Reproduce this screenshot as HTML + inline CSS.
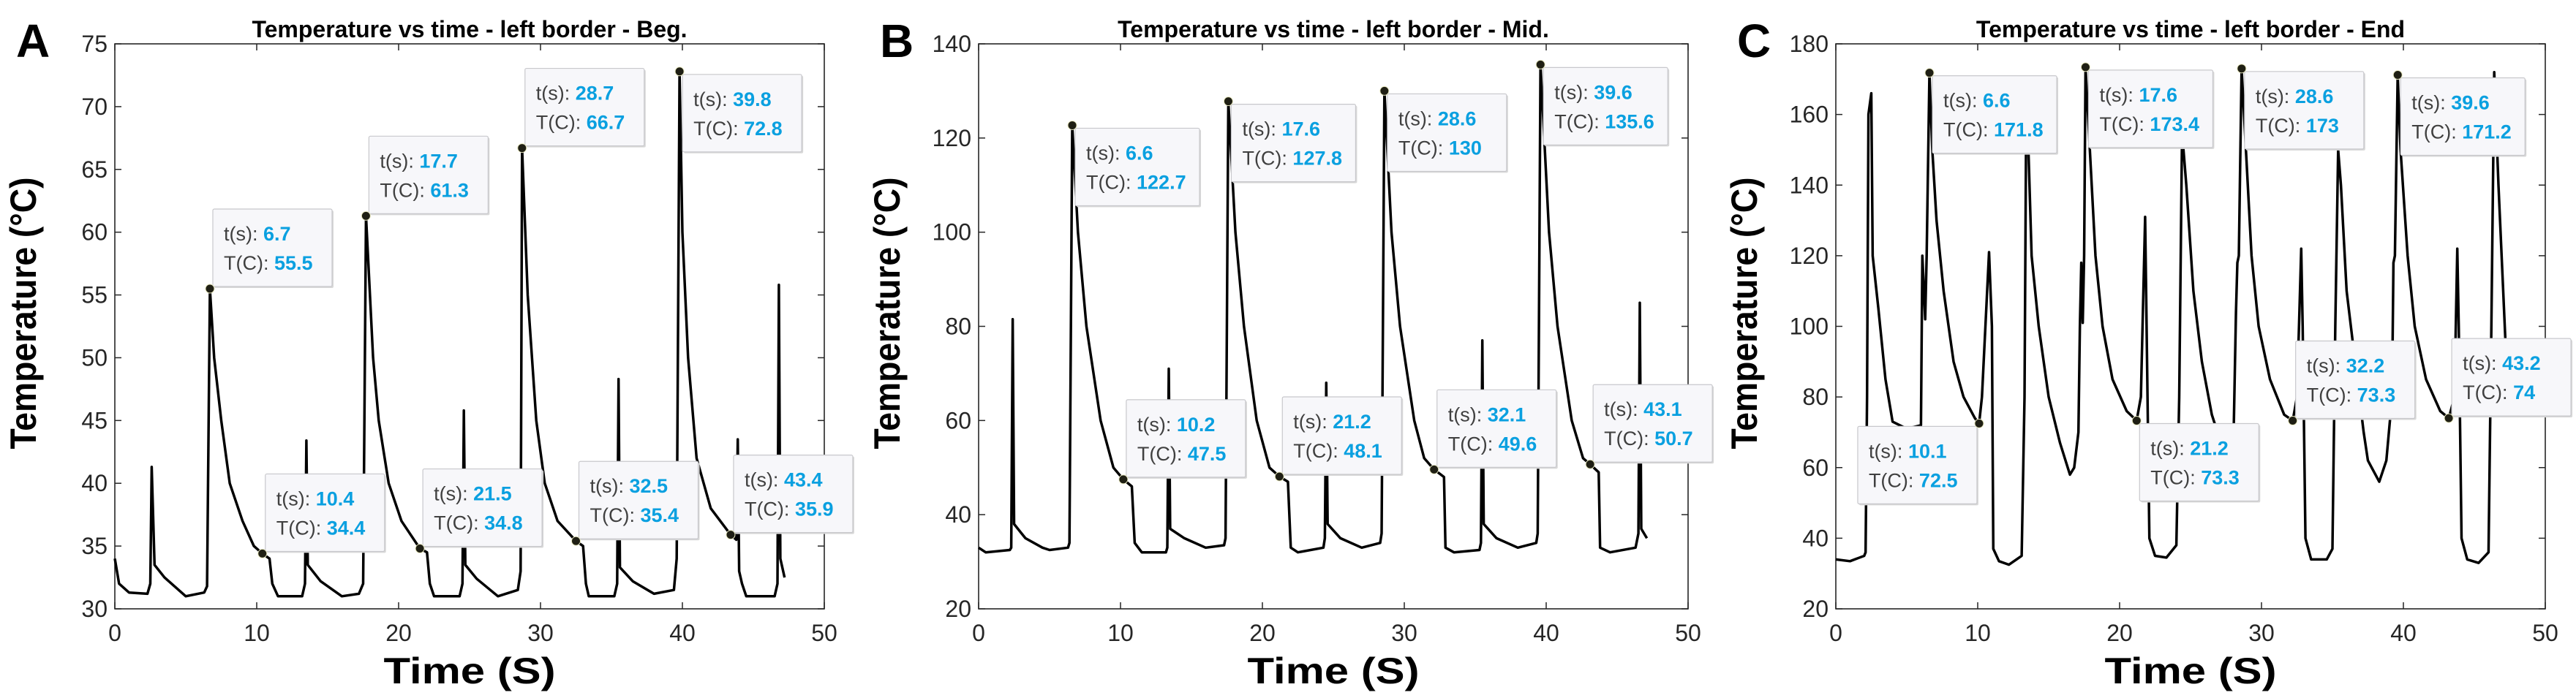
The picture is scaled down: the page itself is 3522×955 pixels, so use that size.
<!DOCTYPE html>
<html><head><meta charset="utf-8"><style>
html,body{margin:0;padding:0;background:#fff;}
svg{display:block;font-family:"Liberation Sans",Arial,sans-serif;}
</style></head><body>
<svg id="fig" width="3522" height="955" viewBox="0 0 3522 955" xmlns="http://www.w3.org/2000/svg"></svg>
<script>
// ---------- Panel A data ----------
const aTime=[0,0.3,1,2.3,2.5,2.6,2.8,3.5,5,6.3,6.5,6.7,7.0,7.5,8.1,9,9.8,10.4,10.9,11.1,11.5,13.2,13.4,13.5,13.6,14.5,16,17.2,17.5,17.7,18.2,18.6,19.3,20.2,21.5,22.0,22.2,22.5,24.3,24.5,24.6,24.7,25.5,27,28.4,28.6,28.7,29.1,29.7,30.3,31.2,32.5,33.0,33.2,33.4,35.2,35.4,35.5,35.6,36.5,38,39.4,39.6,39.8,40.0,40.4,41,42,43.4,43.8,43.9,44.0,44.2,44.5,46.5,46.7,46.8,46.9,47.2];
const aTemp=[34,32,31.3,31.2,32,41.3,33.5,32.5,31,31.3,31.8,55.5,50,45,40,37,35,34.4,34,32,31,31,32,43.4,33.5,32.2,31,31.2,32,61.3,50,45,40,37,34.8,34.5,32,31,31,32,45.8,33.5,32.4,31,31.5,33,66.7,55,45,40,37,35.4,35,32,31,31,32,48.3,33.3,32.2,31.2,31.5,34,72.8,60,50,42,38,35.9,35.5,43.5,33,32,31,31,32,55.8,34,32.5];
const aTipT=[6.7,10.4,17.7,21.5,28.7,32.5,39.8,43.4];
const aTipV=[55.5,34.4,61.3,34.8,66.7,35.4,72.8,35.9];
const aTipPos=["bl","bl","bl","bl","bl","bl","tl","bl"];
const aYTicks=[30,35,40,45,50,55,60,65,70,75];
// ---------- Panel B data ----------
const bTime=[0,0.5,2.2,2.3,2.4,2.5,3.3,4.5,5,6.3,6.4,6.6,7,7.6,8.6,9.5,10.2,10.8,11.0,11.5,13.2,13.3,13.4,13.5,14.5,16,17.3,17.4,17.6,18.1,18.7,19.6,20.5,21.2,21.8,22.0,22.5,24.3,24.4,24.5,24.6,25.5,27,28.3,28.4,28.6,29.1,29.7,30.7,31.4,32.1,32.8,32.9,33.5,35.3,35.4,35.5,35.6,36.5,38,39.3,39.4,39.6,40.2,40.8,41.8,42.6,43.1,43.7,43.8,44.5,46.3,46.5,46.6,46.7,47.1];
const bTemp=[33,32,32.5,33,81.5,38,35,33,32.5,33,34,122.7,100,80,60,50,47.5,46,34,32,32,33,71,37,35,33,33.5,35,127.8,100,80,60,50,48.1,47,33,32,33,35,68,38,35,33,34,36,130,100,80,60,52,49.6,48,33,32,32.5,34,77,38,35,33,34,36,135.6,100,80,60,52,50.7,49,33,32,33,36,85,37,35];
const bTipT=[6.6,10.2,17.6,21.2,28.6,32.1,39.6,43.1];
const bTipV=[122.7,47.5,127.8,48.1,130,49.6,135.6,50.7];
const bTipPos=["tl","bl","tl","bl","tl","bl","tl","bl"];
const bYTicks=[20,40,60,80,100,120,140];
// ---------- Panel C data ----------
const cTime=[0,1,2,2.1,2.2,2.3,2.5,2.6,3,3.5,4,5,6.0,6.1,6.3,6.4,6.6,6.8,7.1,7.6,8.3,9,9.8,10.1,10.3,10.8,11.0,11.1,11.5,12.2,13.1,13.3,13.4,13.5,13.8,14.3,15,15.8,16.5,16.8,17.1,17.2,17.3,17.4,17.5,17.6,17.9,18.3,18.8,19.5,20.5,21.2,21.5,21.8,21.9,22.1,22.5,23.3,24.0,24.2,24.4,24.7,25.2,25.8,26.5,27.3,28.0,28.2,28.3,28.4,28.6,28.9,29.3,29.8,30.6,31.6,32.2,32.5,32.8,32.9,33.1,33.5,34.6,35,35.2,35.4,35.6,36,36.6,37.2,37.5,38.3,38.8,39.2,39.3,39.4,39.6,39.8,40.3,40.8,41.6,42.6,43.2,43.6,43.8,43.9,44.1,44.5,45.3,46.0,46.2,46.4,46.7,47.2];
const cTemp=[34,33.5,35,36,80,160,166,120,105,85,73,71,72,120,102,120,171.8,150,130,110,90,80,74,72.5,80,121,100,37,33.5,32.5,35,80,150,160,120,100,80,67,58,60,70,100,118,101,120,173.4,150,120,100,85,76,73.3,80,131,100,40,35,34.5,38,80,155,140,110,90,75,65,62,104,118,120,173,150,120,100,85,75,73.3,80,122,100,40,34,34,37,100,150,140,110,90,70,62,56,62,80,118,120,171.2,150,120,100,85,76,74,80,122,100,40,34,33,36,100,172,140,95];
const cTipT=[6.6,10.1,17.6,21.2,28.6,32.2,39.6,43.2];
const cTipV=[171.8,72.5,173.4,73.3,173,73.3,171.2,74];
const cTipPos=["tl","tr","tl","tl","tl","bl","tl","bl"];
const cYTicks=[20,40,60,80,100,120,140,160,180];
const xTicks=[0,10,20,30,40,50];

const NS="http://www.w3.org/2000/svg";
const svg=document.getElementById('fig');
function mk(tag,attrs,parent){const e=document.createElementNS(NS,tag);for(const k in attrs)e.setAttribute(k,attrs[k]);(parent||svg).appendChild(e);return e;}

function panel(cfg){
  const g=mk('g',{});
  
  
  const L=cfg.left,R=cfg.left+970,T=60,B=833;
  const ymin=cfg.yt[0],ymax=cfg.yt[cfg.yt.length-1];
  const X=t=>L+(t-0)/50*(R-L);
  const Y=v=>B-(v-ymin)/(ymax-ymin)*(B-T);
  const lt=mk('text',{x:cfg.left-135,y:78,'font-size':64,'font-weight':'bold',fill:'#000'},g);
  lt.textContent=cfg.letter;
  
  
  const tt=mk('text',{x:(L+R)/2,y:51,'font-size':32,'font-weight':'bold','text-anchor':'middle',fill:'#000'},g);
  tt.textContent=cfg.title;
  
  
  const fr=mk('rect',{x:L,y:T,width:R-L,height:B-T,fill:'none',stroke:'#262626','stroke-width':1.6},g);
  
  
  xTicks.forEach(t=>{
    mk('line',{x1:X(t),x2:X(t),y1:B,y2:B-9,stroke:'#262626','stroke-width':1.5},g);
    mk('line',{x1:X(t),x2:X(t),y1:T,y2:T+9,stroke:'#262626','stroke-width':1.5},g);
    const lb=mk('text',{x:X(t),y:B+44,'font-size':32,'text-anchor':'middle',fill:'#262626'},g);
    lb.textContent=t;
    
    
  });
  cfg.yt.forEach(v=>{
    mk('line',{x1:L,x2:L+9,y1:Y(v),y2:Y(v),stroke:'#262626','stroke-width':1.5},g);
    mk('line',{x1:R,x2:R-9,y1:Y(v),y2:Y(v),stroke:'#262626','stroke-width':1.5},g);
    const lb=mk('text',{x:L-10,y:Y(v)+11,'font-size':32,'text-anchor':'end',fill:'#262626'},g);
    lb.textContent=v;
    
    
  });
  const xl=mk('text',{x:(L+R)/2,y:935,'font-size':50,'font-weight':'bold','text-anchor':'middle',fill:'#000',textLength:235,lengthAdjust:'spacingAndGlyphs'},g);
  xl.textContent='Time (S)';
  
  
  const yx=cfg.left-108,yy=(T+B)/2-18;
  const yl=mk('text',{x:yx,y:yy,'font-size':50,'font-weight':'bold','text-anchor':'middle',fill:'#000',transform:`rotate(-90 ${yx} ${yy})`,textLength:372,lengthAdjust:'spacingAndGlyphs'},g);
  yl.textContent='Temperature (°C)';
  
  
  let d='';
  cfg.t.forEach((t,i)=>{d+=(i?'L':'M')+X(t).toFixed(1)+','+Y(cfg.v[i]).toFixed(1);});
  const ln=mk('path',{d:d,fill:'none',stroke:'#000','stroke-width':3.5,'stroke-linejoin':'round'},g);
  
  
  cfg.tipT.forEach((t,i)=>{
    const px=X(t),py=Y(cfg.tipV[i]);
    const w=cfg.tipV[i]>=100&&cfg.tipV[i]%1!==0?170:163,h=106;
    const pos=cfg.tipPos[i];
    let bx=pos==='tr'?px-3-w:px+4;
    let by=pos==='bl'?py-h-3:py+4;
    const tg=mk('g',{},g);
    
    
    mk('rect',{x:bx+2,y:by+2,width:w,height:h,fill:'#d8d8d8',rx:2},tg);
    mk('rect',{x:bx,y:by,width:w,height:h,fill:'#f7f7fa',stroke:'#c8c8cc','stroke-width':1.2,rx:2},tg);
    const l1=mk('text',{x:bx+15,y:by+43,'font-size':27,fill:'#404040'},tg);
    l1.innerHTML='t(s): <tspan font-weight="bold" fill="#0aa0e0">'+t+'</tspan>';
    const l2=mk('text',{x:bx+15,y:by+83,'font-size':27,fill:'#404040'},tg);
    l2.innerHTML='T(C): <tspan font-weight="bold" fill="#0aa0e0">'+cfg.tipV[i]+'</tspan>';
    const dot=mk('circle',{cx:px,cy:py,r:6,fill:'#1f1f14',stroke:'#e8e8c0','stroke-width':1},tg);
    
    
  });
}
panel({id:'beg',letter:'A',left:157,title:'Temperature vs time - left border - Beg.',yt:aYTicks,t:aTime,v:aTemp,tipT:aTipT,tipV:aTipV,tipPos:aTipPos});
panel({id:'mid',letter:'B',left:1338,title:'Temperature vs time - left border - Mid.',yt:bYTicks,t:bTime,v:bTemp,tipT:bTipT,tipV:bTipV,tipPos:bTipPos});
panel({id:'end',letter:'C',left:2510,title:'Temperature vs time - left border - End',yt:cYTicks,t:cTime,v:cTemp,tipT:cTipT,tipV:cTipV,tipPos:cTipPos});
</script>
</body></html>
